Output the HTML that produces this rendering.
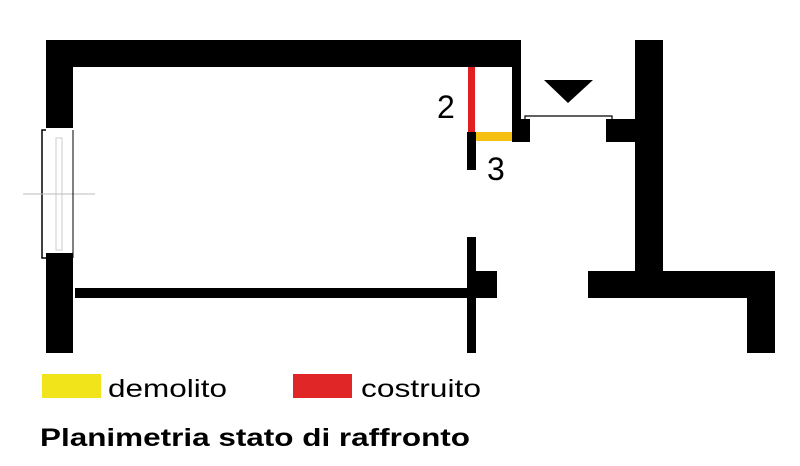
<!DOCTYPE html>
<html><head><meta charset="utf-8"><style>body{margin:0;background:#fff}svg{display:block}</style></head>
<body>
<svg width="800" height="466" viewBox="0 0 800 466" xmlns="http://www.w3.org/2000/svg">
<g fill="#000">
<!-- top wall -->
<rect x="46" y="40" width="475" height="27"/>
<rect x="512" y="40" width="9" height="102"/>
<rect x="512" y="119" width="18" height="23"/>
<!-- left wall -->
<rect x="46" y="40" width="27" height="88"/>
<rect x="46" y="253" width="27" height="100"/>
<!-- inner stubs -->
<rect x="467" y="132" width="9" height="38"/>
<rect x="467" y="237" width="9" height="116"/>
<rect x="476" y="271" width="21" height="27"/>
<rect x="75" y="288" width="395" height="10"/>
<!-- right -->
<rect x="606" y="119" width="30" height="23"/>
<rect x="635" y="40" width="28" height="235"/>
<rect x="588" y="271" width="187" height="27"/>
<rect x="747" y="271" width="28" height="82"/>
<polygon points="544,80 593,80 568,103"/>
</g>
<rect x="468" y="67" width="7" height="65" fill="#e02020"/>
<rect x="476" y="132" width="36" height="9" fill="#f5c010"/>
<!-- door line -->
<path d="M525,119 V116 H612 V119" fill="none" stroke="#000" stroke-width="1.2"/>
<!-- window -->
<path d="M46,130 H42 V258 H46" fill="none" stroke="#000" stroke-width="1.5"/>
<line x1="23" y1="194" x2="95" y2="194" stroke="#bbb" stroke-width="1"/>
<rect x="56" y="138" width="6" height="112" fill="none" stroke="#ccc" stroke-width="1"/>
<line x1="73" y1="130" x2="73" y2="258" stroke="#000" stroke-width="1"/>
<g font-family="Liberation Sans, sans-serif" fill="#000">
<text x="437" y="118" font-size="32">2</text>
<text x="487" y="180" font-size="32">3</text>
<rect x="42" y="374" width="59" height="24" fill="#f2e41a"/>
<rect x="293" y="374" width="59" height="24" fill="#e02626"/>
<text x="108" y="397" font-size="25" textLength="119" lengthAdjust="spacingAndGlyphs">demolito</text>
<text x="361" y="397" font-size="25" textLength="120" lengthAdjust="spacingAndGlyphs">costruito</text>
<text x="40" y="446" font-size="25" font-weight="bold" textLength="430" lengthAdjust="spacingAndGlyphs">Planimetria stato di raffronto</text>
</g>
</svg>
</body></html>
